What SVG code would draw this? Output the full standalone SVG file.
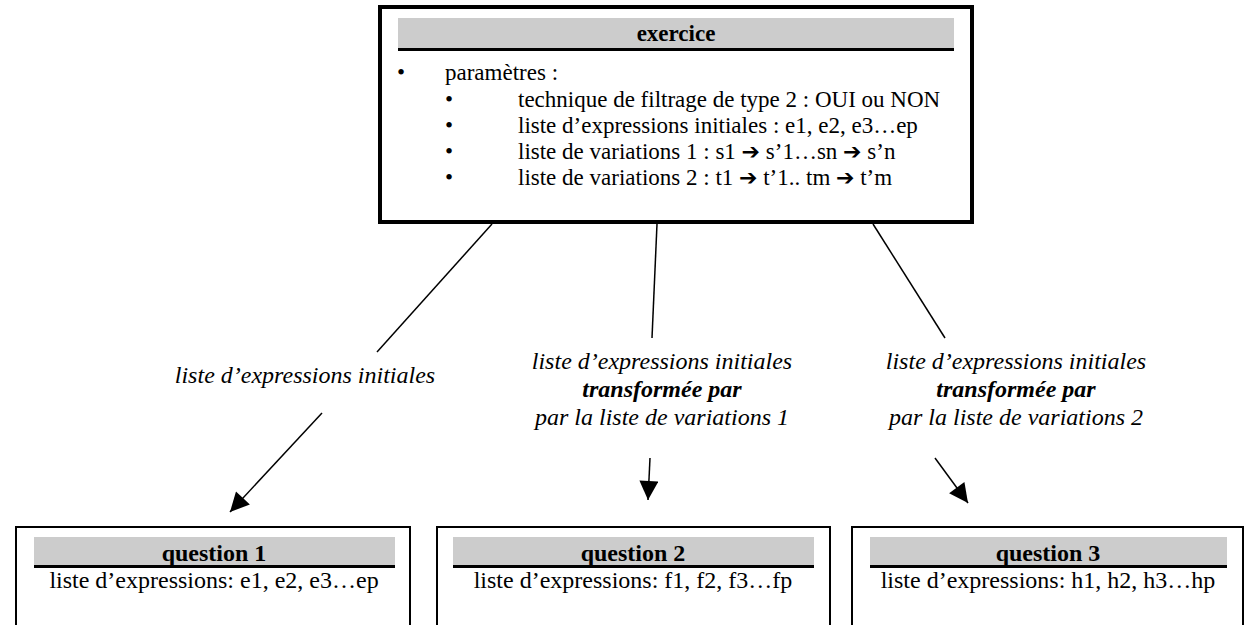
<svg xmlns="http://www.w3.org/2000/svg" width="1247" height="625" viewBox="0 0 1247 625">
<defs>
<style>
.t{font-family:"Liberation Serif","Times New Roman",serif;font-size:23px;fill:#000}
.q{font-size:24px}
.b{font-weight:bold}
.i{font-style:italic;font-size:24px}
.ar{font-family:"DejaVu Sans",sans-serif;font-weight:bold;font-size:22px}
.hd{fill:#cccccc}
.box{fill:#fff;stroke:#000}
.ln{stroke:#000;stroke-width:1.5;fill:none}
</style>
<marker id="ah" viewBox="0 0 10 10" refX="10" refY="5" markerWidth="23" markerHeight="19" markerUnits="userSpaceOnUse" orient="auto">
<path d="M0,0 L10,5 L0,10 z" fill="#000"/>
</marker>
</defs>
<rect width="1247" height="625" fill="#fff"/>
<g id="exercice">
<rect class="box" x="380" y="7" width="592" height="215" stroke-width="4"/>
<rect class="hd" x="398" y="18" width="556" height="30"/>
<line x1="398" y1="49.5" x2="954" y2="49.5" stroke="#000" stroke-width="3"/>
<text class="t b" x="676" y="41" text-anchor="middle">exercice</text>
<text class="t" x="397" y="80">•</text>
<text class="t" x="445" y="80">paramètres :</text>
<text class="t" x="445" y="107">•</text>
<text class="t" x="518" y="107">technique de filtrage de type 2 : OUI ou NON</text>
<text class="t" x="445" y="133">•</text>
<text class="t" x="518" y="133">liste d’expressions initiales : e1, e2, e3…ep</text>
<text class="t" x="445" y="159">•</text>
<text class="t" x="518" y="159">liste de variations 1 : s1 <tspan class="ar">➔</tspan> s’1…sn <tspan class="ar">➔</tspan> s’n</text>
<text class="t" x="445" y="185">•</text>
<text class="t" x="518" y="185">liste de variations 2 : t1 <tspan class="ar">➔</tspan> t’1.. tm <tspan class="ar">➔</tspan> t’m</text>
</g>
<g id="connectors">
<line class="ln" x1="492" y1="224" x2="377" y2="352"/>
<line class="ln" x1="322" y1="413" x2="230" y2="512" marker-end="url(#ah)"/>
<line class="ln" x1="657" y1="224" x2="652" y2="338"/>
<line class="ln" x1="650" y1="458" x2="648" y2="500" marker-end="url(#ah)"/>
<line class="ln" x1="873" y1="224" x2="945" y2="338"/>
<line class="ln" x1="935" y1="458" x2="968" y2="503" marker-end="url(#ah)"/>
<text class="t i" x="305" y="383" text-anchor="middle">liste d’expressions initiales</text>
<text class="t i" x="662" y="369" text-anchor="middle">liste d’expressions initiales</text>
<text class="t i b" x="662" y="397" text-anchor="middle">transformée par</text>
<text class="t i" x="662" y="425" text-anchor="middle">par la liste de variations 1</text>
<text class="t i" x="1016" y="369" text-anchor="middle">liste d’expressions initiales</text>
<text class="t i b" x="1016" y="397" text-anchor="middle">transformée par</text>
<text class="t i" x="1016" y="425" text-anchor="middle">par la liste de variations 2</text>
</g>
<g id="question1">
<rect class="box" x="16" y="527" width="394" height="110" stroke-width="2"/>
<rect class="hd" x="34" y="537" width="361" height="28"/>
<line x1="34" y1="566.5" x2="395" y2="566.5" stroke="#000" stroke-width="3"/>
<text class="t q b" x="214" y="561" text-anchor="middle">question 1</text>
<text class="t q" x="214" y="588" text-anchor="middle">liste d’expressions: e1, e2, e3…ep</text>
</g>
<g id="question2">
<rect class="box" x="437" y="527" width="393" height="110" stroke-width="2"/>
<rect class="hd" x="453" y="537" width="361" height="28"/>
<line x1="453" y1="566.5" x2="814" y2="566.5" stroke="#000" stroke-width="3"/>
<text class="t q b" x="633" y="561" text-anchor="middle">question 2</text>
<text class="t q" x="633" y="588" text-anchor="middle">liste d’expressions: f1, f2, f3…fp</text>
</g>
<g id="question3">
<rect class="box" x="852" y="527" width="391" height="110" stroke-width="2"/>
<rect class="hd" x="870" y="537" width="357" height="28"/>
<line x1="870" y1="566.5" x2="1227" y2="566.5" stroke="#000" stroke-width="3"/>
<text class="t q b" x="1048" y="561" text-anchor="middle">question 3</text>
<text class="t q" x="1048" y="588" text-anchor="middle">liste d’expressions: h1, h2, h3…hp</text>
</g>
</svg>
